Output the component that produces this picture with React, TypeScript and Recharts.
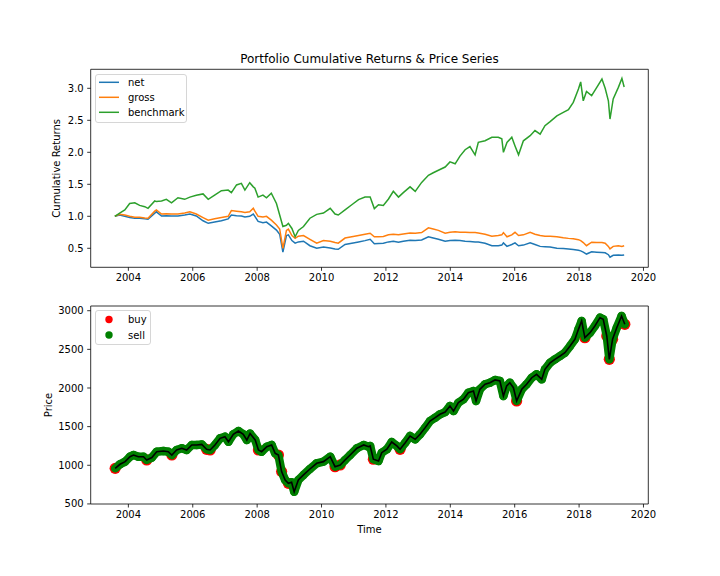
import React from 'react';
import { ComposedChart, Line, Scatter, XAxis, YAxis, ReferenceArea } from 'recharts';

const dates = [
  2003.58, 2003.73, 2003.89, 2004.04, 2004.2, 2004.35, 2004.51, 2004.61, 2004.82, 2004.87,
  2005.03, 2005.18, 2005.34, 2005.54, 2005.75, 2005.91, 2006.11, 2006.32, 2006.48, 2006.68,
  2006.89, 2007.1, 2007.2, 2007.36, 2007.51, 2007.62, 2007.77, 2007.88, 2007.93, 2008.03,
  2008.18, 2008.29, 2008.44, 2008.6, 2008.7, 2008.8, 2008.91, 2008.97, 2009.08, 2009.18,
  2009.28, 2009.44, 2009.64, 2009.85, 2010.06, 2010.27, 2010.42, 2010.52, 2010.73, 2010.94,
  2011.15, 2011.35, 2011.51, 2011.64, 2011.77, 2011.92, 2012.08, 2012.23, 2012.39, 2012.54,
  2012.75, 2012.91, 2013.11, 2013.32, 2013.47, 2013.63, 2013.84, 2013.99, 2014.15, 2014.3,
  2014.46, 2014.61, 2014.77, 2014.87, 2015.08, 2015.29, 2015.49, 2015.6, 2015.65, 2015.76,
  2015.91, 2016.01, 2016.12, 2016.27, 2016.48, 2016.63, 2016.79, 2016.94, 2017.1, 2017.31,
  2017.51, 2017.67, 2017.82, 2017.98, 2018.05, 2018.13, 2018.23, 2018.39, 2018.55, 2018.71,
  2018.81, 2018.91, 2018.96, 2019.06, 2019.22, 2019.33, 2019.4,
];

const netValues = [
  1.0, 1.02, 1.0, 0.98, 0.97, 0.97, 0.96, 0.955, 1.05, 1.07,
  1.005, 1.01, 1.005, 1.005, 1.02, 1.035, 1.005, 0.93, 0.89, 0.91,
  0.93, 0.96, 1.02, 1.01, 1.005, 0.99, 1.0, 1.035, 1.0, 0.92,
  0.9, 0.91, 0.85, 0.785, 0.72, 0.44, 0.7, 0.71, 0.62, 0.58,
  0.6, 0.61, 0.54, 0.5, 0.52, 0.505, 0.49, 0.485, 0.56, 0.58,
  0.6, 0.62, 0.64, 0.57, 0.575, 0.58, 0.6, 0.61, 0.595, 0.61,
  0.625, 0.62, 0.63, 0.68, 0.66, 0.64, 0.61, 0.62, 0.625, 0.62,
  0.61, 0.605, 0.6, 0.6, 0.58, 0.54, 0.54, 0.55, 0.585, 0.53,
  0.56, 0.585, 0.54, 0.55, 0.585, 0.56, 0.53, 0.525, 0.52, 0.5,
  0.495, 0.49, 0.48, 0.47, 0.46, 0.44, 0.41, 0.445, 0.44, 0.435,
  0.43, 0.4, 0.36, 0.39, 0.395, 0.39, 0.395,
];

const grossValues = [
  1.0, 1.03, 1.02, 1.0, 0.985, 0.985, 0.975, 0.97, 1.08, 1.1,
  1.035, 1.04, 1.035, 1.035, 1.05, 1.07, 1.035, 0.98, 0.94, 0.96,
  0.98, 1.0, 1.09, 1.08, 1.07, 1.06, 1.07, 1.125, 1.08, 1.0,
  0.99, 1.0, 0.94, 0.865, 0.8, 0.5, 0.78, 0.8, 0.7, 0.655,
  0.69, 0.7, 0.64, 0.58, 0.62, 0.61, 0.59, 0.58, 0.66, 0.68,
  0.7, 0.72, 0.735, 0.68, 0.68, 0.685, 0.71, 0.72, 0.71, 0.725,
  0.74, 0.735, 0.745, 0.82, 0.8, 0.78, 0.735, 0.75, 0.76, 0.75,
  0.75, 0.745, 0.745, 0.74, 0.72, 0.69, 0.7, 0.71, 0.745, 0.68,
  0.71, 0.75, 0.7, 0.71, 0.75, 0.72, 0.7, 0.69, 0.69, 0.68,
  0.665, 0.655, 0.65, 0.635, 0.62, 0.59, 0.54, 0.595, 0.59, 0.59,
  0.58, 0.53, 0.49, 0.53, 0.54, 0.53, 0.54,
];

const benchmarkValues = [
  1.0, 1.05, 1.1, 1.2, 1.21, 1.17, 1.15, 1.125, 1.24, 1.23,
  1.24, 1.265, 1.21, 1.29, 1.265, 1.3, 1.33, 1.35, 1.265, 1.33,
  1.4, 1.41, 1.37, 1.49, 1.515, 1.41, 1.525, 1.46, 1.44, 1.3,
  1.33, 1.29, 1.36, 1.2, 1.02, 0.84, 0.86, 0.89, 0.81, 0.68,
  0.78, 0.84, 0.97, 1.03, 1.05, 1.125, 1.035, 1.02, 1.1, 1.18,
  1.26, 1.3, 1.3, 1.12, 1.18, 1.17, 1.27, 1.39, 1.3, 1.37,
  1.46, 1.39, 1.53, 1.64, 1.68, 1.72, 1.77, 1.85, 1.82, 1.94,
  2.04, 2.09, 1.96, 2.155, 2.18, 2.235, 2.235, 2.21, 2.0, 2.155,
  2.235, 2.1, 1.96, 2.18, 2.26, 2.34, 2.285, 2.415, 2.48, 2.57,
  2.625, 2.665, 2.78, 2.99, 3.1, 2.805, 2.95, 2.885, 3.015, 3.145,
  3.0, 2.805, 2.52, 2.835, 3.015, 3.155, 3.02,
];

const priceDates = [
  2003.59, 2003.74, 2003.9, 2004.05, 2004.16, 2004.31, 2004.47, 2004.57, 2004.73, 2004.88,
  2005.09, 2005.24, 2005.35, 2005.5, 2005.66, 2005.81, 2005.97, 2006.12, 2006.28, 2006.43,
  2006.54, 2006.69, 2006.85, 2007.0, 2007.11, 2007.26, 2007.42, 2007.57, 2007.68, 2007.78,
  2007.94, 2008.04, 2008.14, 2008.3, 2008.45, 2008.56, 2008.66, 2008.76, 2008.87, 2008.97,
  2009.07, 2009.15, 2009.28, 2009.44, 2009.64, 2009.85, 2010.06, 2010.27, 2010.42, 2010.58,
  2010.73, 2010.89, 2011.1, 2011.31, 2011.46, 2011.51, 2011.61, 2011.77, 2011.87, 2012.03,
  2012.18, 2012.34, 2012.44, 2012.6, 2012.75, 2012.91, 2013.06, 2013.22, 2013.37, 2013.53,
  2013.68, 2013.84, 2013.99, 2014.1, 2014.25, 2014.41, 2014.56, 2014.72, 2014.8, 2014.92,
  2015.08, 2015.23, 2015.39, 2015.54, 2015.65, 2015.75, 2015.85, 2015.96, 2016.06, 2016.22,
  2016.37, 2016.53, 2016.68, 2016.84, 2016.94, 2017.1, 2017.25, 2017.41, 2017.56, 2017.72,
  2017.87, 2017.98, 2018.08, 2018.18, 2018.34, 2018.49, 2018.65, 2018.75, 2018.86, 2018.94,
  2019.04, 2019.17, 2019.32, 2019.42,
];

const priceValues = [
  960, 1013, 1047, 1111, 1133, 1111, 1111, 1069, 1100, 1176,
  1185, 1176, 1133, 1198, 1220, 1198, 1263, 1263, 1270, 1207,
  1198, 1263, 1349, 1370, 1305, 1401, 1444, 1401, 1327, 1410,
  1327, 1198, 1176, 1241, 1263, 1155, 1133, 918, 810, 767,
  780, 658, 810, 875, 952, 1026, 1047, 1111, 982, 1004,
  1069, 1133, 1220, 1263, 1241, 1250, 1078, 1056, 1163, 1207,
  1301, 1250, 1207, 1292, 1379, 1336, 1401, 1487, 1573, 1616,
  1660, 1689, 1767, 1702, 1810, 1854, 1939, 1961, 1832, 1983,
  2048, 2069, 2104, 2091, 1896, 2026, 2069, 2004, 1832, 1983,
  2048, 2133, 2177, 2112, 2242, 2327, 2371, 2414, 2457, 2543,
  2630, 2759, 2867, 2651, 2716, 2802, 2910, 2890, 2673, 2371,
  2630, 2780, 2931, 2824,
];

const buyDates = [
  2003.59, 2004.57, 2005.35, 2006.43, 2006.54, 2008.04, 2008.66, 2008.76, 2008.97, 2010.42,
  2010.58, 2011.61, 2012.44, 2016.06, 2018.18, 2018.86, 2018.94, 2019.04, 2019.42,
];

const xTicks = [2004, 2006, 2008, 2010, 2012, 2014, 2016, 2018, 2020];
const returnTicks = [0.5, 1.0, 1.5, 2.0, 2.5, 3.0];
const priceTicks = [500, 1000, 1500, 2000, 2500, 3000];

const returnRows = dates.map((t, i) => ({
  t,
  net: netValues[i],
  gross: grossValues[i],
  benchmark: benchmarkValues[i],
}));
const priceRows = priceDates.map((t, i) => ({ t, price: priceValues[i] }));
const buyRows = priceRows.filter((r) => buyDates.includes(r.t));
const sellRows = priceRows.filter((r) => !buyDates.includes(r.t));

const FONT = 'DejaVu Sans';
const X_DOMAIN: [number, number] = [2002.83, 2020.15];
const R_DOMAIN: [number, number] = [0.203, 3.297];
const P_DOMAIN: [number, number] = [499, 3061];
const tickStyle = { fontSize: 10, fill: '#000', fontFamily: FONT };
const axisLineColor = '#000';
const BUY = '#ff0000';
const SELL = '#008000';

const dotShape = (color: string, r: number) => (props: any) => (
  <circle cx={props.cx} cy={props.cy} r={r} fill={color} />
);

const layerStyle: React.CSSProperties = { position: 'absolute', left: 0, top: 0 };

function PriceLayer({ showAxes, children }: { showAxes: boolean; children: React.ReactNode }) {
  return (
    <div style={layerStyle}>
      <ComposedChart
        width={720}
        height={576}
        data={priceRows}
        margin={{ top: 306, right: 71.7, bottom: 42, left: 10.7 }}
      >
        <XAxis
          dataKey="t"
          type="number"
          domain={X_DOMAIN}
          ticks={xTicks}
          allowDataOverflow
          height={30}
          axisLine={false}
          tickLine={showAxes ? { stroke: axisLineColor, strokeWidth: 0.8 } : false}
          tickSize={3.5}
          tickMargin={3}
          tick={showAxes ? tickStyle : false}
          interval={0}
        />
        <YAxis
          type="number"
          domain={P_DOMAIN}
          ticks={priceTicks}
          allowDataOverflow
          width={80}
          axisLine={false}
          tickLine={showAxes ? { stroke: axisLineColor, strokeWidth: 0.8 } : false}
          tickSize={3.5}
          tickMargin={3.5}
          tick={showAxes ? tickStyle : false}
          interval={0}
        />
        {children}
      </ComposedChart>
    </div>
  );
}

export default function App() {
  return (
    <div style={{ position: 'absolute', left: 0, top: 0, width: 720, height: 576, background: '#fff', fontFamily: FONT }}>
      <div style={layerStyle}>
        <ComposedChart
          width={720}
          height={576}
          data={returnRows}
          margin={{ top: 69.3, right: 71.7, bottom: 278.7, left: 10.7 }}
        >
          <XAxis
            dataKey="t"
            type="number"
            domain={X_DOMAIN}
            ticks={xTicks}
            allowDataOverflow
            height={30}
            axisLine={false}
            tickLine={{ stroke: axisLineColor, strokeWidth: 0.8 }}
            tickSize={3.5}
            tickMargin={3}
            tick={tickStyle}
            interval={0}
          />
          <YAxis
            type="number"
            domain={R_DOMAIN}
            ticks={returnTicks}
            allowDataOverflow
            width={80}
            axisLine={false}
            tickLine={{ stroke: axisLineColor, strokeWidth: 0.8 }}
            tickSize={3.5}
            tickMargin={3.5}
            tick={tickStyle}
            tickFormatter={(v: number) => v.toFixed(1)}
            interval={0}
          />
          <Line dataKey="net" stroke="#1f77b4" strokeWidth={1.5} dot={false} isAnimationActive={false} />
          <Line dataKey="gross" stroke="#ff7f0e" strokeWidth={1.5} dot={false} isAnimationActive={false} />
          <Line dataKey="benchmark" stroke="#2ca02c" strokeWidth={1.5} dot={false} isAnimationActive={false} />
          <ReferenceArea
            x1={X_DOMAIN[0]}
            x2={X_DOMAIN[1]}
            y1={R_DOMAIN[0]}
            y2={R_DOMAIN[1]}
            fill="none"
            stroke={axisLineColor}
            strokeWidth={0.8}
            ifOverflow="visible"
          />
        </ComposedChart>
      </div>

      {/* bottom panel, drawn in layers: buy markers, sell markers + band, price line */}
      <PriceLayer showAxes>
        <Scatter data={buyRows} dataKey="price" shape={dotShape(BUY, 5.6)} isAnimationActive={false} />
        <ReferenceArea
          x1={X_DOMAIN[0]}
          x2={X_DOMAIN[1]}
          y1={P_DOMAIN[0]}
          y2={P_DOMAIN[1]}
          fill="none"
          stroke={axisLineColor}
          strokeWidth={0.8}
          ifOverflow="visible"
        />
      </PriceLayer>
      <PriceLayer showAxes={false}>
        <Line
          dataKey="price"
          stroke={SELL}
          strokeWidth={8.5}
          strokeLinejoin="round"
          strokeLinecap="round"
          dot={false}
          isAnimationActive={false}
        />
        <Scatter data={sellRows} dataKey="price" shape={dotShape(SELL, 4.2)} isAnimationActive={false} />
      </PriceLayer>
      <PriceLayer showAxes={false}>
        <Line dataKey="price" stroke="#000" strokeWidth={1.6} dot={false} isAnimationActive={false} />
      </PriceLayer>

      <svg
        width={720}
        height={576}
        style={{ position: 'absolute', left: 0, top: 0, pointerEvents: 'none' }}
        fontFamily={FONT}
      >
        <text x={369.5} y={63.3} fontSize={12} textAnchor="middle" fill="#000">
          Portfolio Cumulative Returns &amp; Price Series
        </text>
        <text transform="translate(60.4,168.3) rotate(-90)" fontSize={10} textAnchor="middle" fill="#000">
          Cumulative Returns
        </text>
        <text transform="translate(51.8,405) rotate(-90)" fontSize={10} textAnchor="middle" fill="#000">
          Price
        </text>
        <text x={369.5} y={533} fontSize={10} textAnchor="middle" fill="#000">
          Time
        </text>

        <rect x={95.5} y={74.5} width={91} height={48} rx={2.5} fill="#fff" fillOpacity={0.8} stroke="#cccccc" strokeWidth={0.8} />
        <line x1={99} x2={119} y1={82.3} y2={82.3} stroke="#1f77b4" strokeWidth={1.5} />
        <text x={128} y={85.9} fontSize={10} fill="#000">net</text>
        <line x1={99} x2={119} y1={97.3} y2={97.3} stroke="#ff7f0e" strokeWidth={1.5} />
        <text x={128} y={100.9} fontSize={10} fill="#000">gross</text>
        <line x1={99} x2={119} y1={112.3} y2={112.3} stroke="#2ca02c" strokeWidth={1.5} />
        <text x={128} y={115.9} fontSize={10} fill="#000">benchmark</text>

        <rect x={95.5} y={310.5} width={55} height={34} rx={2.5} fill="#fff" fillOpacity={0.8} stroke="#cccccc" strokeWidth={0.8} />
        <circle cx={109} cy={319.5} r={3.7} fill={BUY} />
        <text x={128} y={323.1} fontSize={10} fill="#000">buy</text>
        <circle cx={109} cy={335} r={3.7} fill={SELL} />
        <text x={128} y={338.6} fontSize={10} fill="#000">sell</text>
      </svg>
    </div>
  );
}
